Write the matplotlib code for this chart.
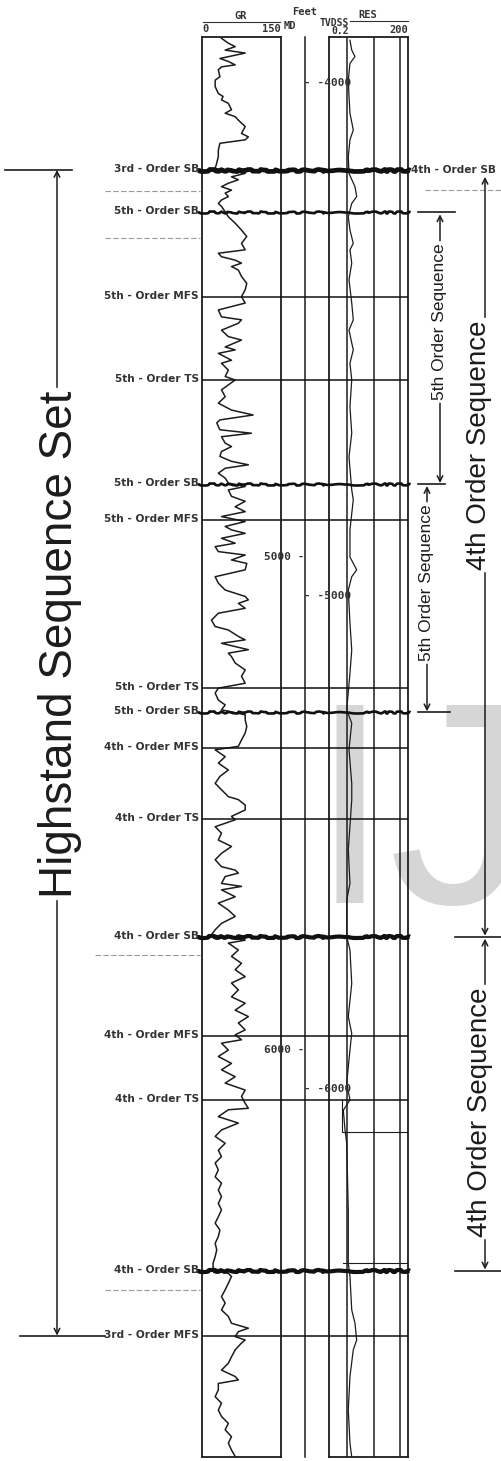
import matplotlib
matplotlib.use('Agg')
import matplotlib.pyplot as plt

# ---- data (depth = MD, feet) ----
GR_MD = [3948, 3958, 3965, 3972, 3978, 3989, 3995, 4002, 4006, 4012, 4026, 4033, 4046, 4060, 4066,
         4073, 4080, 4093, 4100, 4107, 4114, 4127, 4141, 4148, 4154, 4161, 4175, 4188, 4201, 4212,
         4222, 4229, 4235, 4242, 4249, 4256, 4262, 4269, 4276, 4283, 4289, 4300,
         4310, 4323, 4337, 4350, 4364, 4377, 4384, 4391, 4398, 4404, 4411, 4418, 4431, 4445, 4458, 4472,
         4485, 4499, 4513, 4519, 4526, 4540, 4553, 4560, 4574, 4580, 4587, 4601, 4607, 4621, 4634, 4641,
         4661, 4675, 4688, 4702, 4712, 4722, 4728, 4742, 4749, 4756, 4769, 4776, 4786, 4796, 4806,
         4813, 4820, 4830, 4840, 4850,
         4857, 4864, 4877, 4887, 4898, 4908, 4918,
         4928, 4938, 4945, 4952, 4962, 4972, 4979, 4989, 4996, 5006, 5013, 5026, 5040, 5053, 5067,
         5080, 5087, 5094, 5104, 5114, 5128, 5141, 5148, 5161, 5168, 5175, 5188, 5195, 5202, 5215,
         5229, 5242, 5256,
         5266, 5276, 5290, 5300, 5310,
         5320, 5330, 5344, 5357, 5371, 5384,
         5391, 5405, 5418, 5432, 5445, 5459, 5472, 5486, 5492, 5503, 5513, 5526,
         5533, 5547, 5560, 5574, 5587, 5601, 5614, 5628, 5635, 5641, 5648, 5662, 5668, 5675, 5689,
         5702, 5716, 5729, 5743, 5756, 5766,
         5777, 5783, 5797, 5810, 5824, 5837, 5851, 5864, 5878, 5892, 5905, 5919, 5932, 5945, 5959,
         5969, 5979, 5986, 6000, 6013, 6027, 6040, 6054, 6067, 6081, 6094, 6108, 6118,
         6121, 6135, 6148, 6162, 6175, 6189, 6203, 6216, 6229, 6243, 6257, 6270, 6284, 6297, 6311,
         6324, 6338, 6351, 6365, 6378, 6392, 6405, 6419, 6432, 6442,
         6453, 6459, 6473, 6486, 6500, 6513, 6527, 6540, 6554, 6564, 6571,
         6581, 6588, 6594, 6601, 6608, 6622, 6635, 6649, 6662, 6669, 6676, 6689, 6703, 6716, 6730,
         6743, 6757, 6770, 6784, 6797, 6811, 6824]
GR_API = [37, 50, 63, 44, 82, 34, 50, 63, 37, 31, 34, 25, 25, 31, 40,
          37, 50, 56, 44, 63, 69, 82, 75, 88, 82, 34, 31, 31, 28, 25,
          82, 56, 69, 50, 37, 56, 44, 50, 37, 31, 37, 44,
          50, 63, 75, 85, 75, 82, 31, 37, 63, 75, 56, 69, 75, 85, 82, 75,
          82, 31, 37, 75, 69, 37, 50, 75, 44, 63, 31, 56, 37, 50, 44, 63,
          37, 44, 31, 56, 97, 34, 28, 34, 94, 37, 44, 56, 37, 34, 56,
          88, 44, 31, 44, 50,
          82, 50, 56, 82, 63, 82, 37,
          82, 44, 56, 82, 37, 63, 25, 31, 82, 56, 85, 82, 25, 31, 44,
          82, 88, 69, 82, 31, 18, 25, 50, 69, 82, 37, 88, 50, 56, 63,
          82, 75, 82,
          31, 25, 31, 44, 37,
          82, 82, 85, 82, 75, 69,
          25, 44, 31, 50, 34, 25, 37, 50, 69, 82, 82, 56,
          63, 25, 37, 31, 56, 37, 25, 37, 63, 69, 44, 37, 75, 37, 63,
          31, 50, 63, 37, 25, 18,
          82, 50, 69, 56, 75, 63, 82, 56, 69, 56, 82, 63, 88, 69, 82,
          63, 75, 37, 50, 31, 56, 37, 63, 44, 82, 75, 82, 88,
          50, 31, 69, 37, 25, 44, 31, 37, 25, 31, 25, 37, 31, 37, 31,
          37, 31, 25, 34, 31, 25, 28, 25, 21, 21,
          50, 56, 50, 44, 37, 44, 37, 50, 56, 88, 69,
          63, 82, 75, 69, 63, 56, 50, 37, 63, 69, 31, 31, 25, 37, 31,
          37, 50, 44, 56, 50, 56, 63]

RES_MD = [3952, 3972, 3985, 3999, 4033, 4066, 4100, 4134, 4154, 4188, 4222, 4249, 4269, 4283,
          4310, 4337, 4364, 4377, 4404, 4438, 4485, 4519, 4540, 4580, 4607, 4641,
          4695, 4749, 4797, 4864, 4884, 4945, 5000, 5026, 5040, 5067, 5134, 5189, 5236, 5310,
          5337, 5371, 5391, 5459, 5493, 5594, 5662, 5696, 5770, 5797, 5865, 5932, 5966, 6000,
          6067, 6101, 6122, 6162, 6189, 6324, 6432, 6459, 6527, 6554, 6588, 6608, 6662, 6730,
          6797, 6825]
RES_OHMM = [1.25, 1.46, 1.94, 1.25, 1.08, 1.15, 1.25, 1.67, 1.25, 1.08, 1.15, 1.94, 2.25, 1.46,
            1.08, 1.25, 1.67, 1.25, 1.46, 1.15, 1.46, 1.67, 1.15, 1.67, 1.25, 1.46,
            1.25, 1.46, 1.15, 1.46, 1.67, 1.25, 1.25, 2.25, 1.46, 1.08, 1.25, 1.46, 1.25, 0.94,
            1.46, 1.25, 1.15, 1.46, 1.46, 1.08, 1.25, 0.94, 0.94, 1.25, 1.46, 1.08, 1.46, 1.25,
            0.94, 1.25, 0.70, 0.81, 0.94, 1.08, 1.08, 1.25, 1.46, 1.94, 2.25, 1.67, 1.25, 1.08,
            1.25, 1.46]
RES_GRID = [1, 10, 100]
# scale-shift / backup trace segments in the RES track
RES_STEP_MD = [6101, 6166, 6166]
RES_STEP_OHMM = [0.62, 0.62, 200]
RES_STEP2_MD = [6432, 6432]
RES_STEP2_OHMM = [0.70, 200]

SURF_MD = [4215, 4301, 4472, 4641, 4852, 4925, 5265, 5315, 5387, 5531, 5770, 5971, 6101, 6447, 6579]
SURF_LABEL = ['3rd - Order SB', '5th - Order SB', '5th - Order MFS', '5th - Order TS',
              '5th - Order SB', '5th - Order MFS', '5th - Order TS', '5th - Order SB',
              '4th - Order MFS', '4th - Order TS', '4th - Order SB', '4th - Order MFS',
              '4th - Order TS', '4th - Order SB', '3rd - Order MFS']
SURF_KIND = ['SB3', 'SB5', 'MFS', 'TS', 'SB5', 'MFS', 'TS', 'SB5',
             'MFS', 'TS', 'SB4', 'MFS', 'TS', 'SB4', 'MFS']

MD_TICKS = [5000, 6000]
TVDSS_TICK_MD = [4039, 5079, 6079]
TVDSS_LABELS = ['-4000', '-5000', '-6000']

# ---- layout (scan is 501 x 1461 px; 5000 ft at row 557, 6000 ft at row 1050) ----
W, H = 501, 1461


def md(row):
    return 3870.4 + 2.028 * row


TOP, BOT = md(37), md(1457)
INK = '#1c1c1c'
MONO = dict(family='DejaVu Sans Mono', fontweight='bold', color='#333333')
LABEL = dict(fontsize=7.6, fontweight='bold', color='#333333')

fig = plt.figure(figsize=(W / 100, H / 100), dpi=100)
fig.patch.set_facecolor('white')

# watermark behind everything
fig.text(309 / W, 1 - 903 / H, 'IJ', fontsize=207, color='#d6d6d6',
         family=['Liberation Sans', 'DejaVu Sans'], ha='left', va='baseline', zorder=-1)


def track(x0, x1):
    ax = fig.add_axes([x0 / W, 1 - 1457 / H, (x1 - x0) / W, 1420 / H])
    ax.set_ylim(BOT, TOP)
    ax.set_facecolor('none')
    ax.tick_params(which='both', bottom=False, left=False, labelbottom=False, labelleft=False)
    for s in ax.spines.values():
        s.set_linewidth(1.3)
        s.set_color(INK)
    return ax


gr = track(202, 281)
gr.set_xlim(0, 150)
gr.plot(GR_API, GR_MD, color=INK, lw=1.1)

res = track(329, 408)
res.set_xscale('log')
res.set_xlim(0.2, 200)
res.tick_params(which='both', bottom=False, left=False, labelbottom=False, labelleft=False)
for v in RES_GRID:
    res.axvline(v, color=INK, lw=1.1)
res.plot(RES_OHMM, RES_MD, color=INK, lw=0.9)
res.plot(RES_STEP_OHMM, RES_STEP_MD, color=INK, lw=0.8)
res.plot(RES_STEP2_OHMM, RES_STEP2_MD, color=INK, lw=0.8)

# overlay for surfaces & annotations, x in scan pixels, y in MD
ov = fig.add_axes([0, 0, 1, 1], zorder=5)
ov.set_xlim(0, W)
ov.set_ylim(md(H), md(0))
ov.axis('off')
ov.patch.set_alpha(0)

ov.plot([305, 305], [TOP, BOT], color=INK, lw=1.1)

style = {'SB3': (3.4, 197, 410, True), 'SB4': (3.0, 197, 410, True), 'SB5': (1.9, 197, 410, True),
         'MFS': (1.1, 202, 408, False), 'TS': (1.1, 202, 408, False)}
for d, lab, kind in zip(SURF_MD, SURF_LABEL, SURF_KIND):
    lw, x0, x1, wavy = style[kind]
    ln, = ov.plot([x0, x1], [d, d], color='#111111', lw=lw, solid_capstyle='butt')
    if wavy:
        ln.set_sketch_params(scale=1.0, length=40, randomness=20)
    ov.text(199, d - 2, lab, ha='right', va='center', **LABEL)

ov.text(411, SURF_MD[0], '4th - Order SB', ha='left', va='center', **LABEL)

# faint scan dashes under some labels
for x0, x1, r in [(105, 200, 191), (105, 200, 238), (95, 200, 955), (105, 200, 1290), (425, 501, 190)]:
    ov.plot([x0, x1], [md(r), md(r)], color='#9a9a9a', lw=0.8, ls=(0, (5, 2)))

# header
ov.text(305, md(12), 'Feet', ha='center', va='center', fontsize=7.5, **MONO)
ov.text(241, md(16), 'GR', ha='center', va='center', fontsize=7.5, **MONO)
ov.plot([203, 280], [md(22), md(22)], color='#333333', lw=0.8)
ov.text(202, md(29), '0', ha='left', va='center', fontsize=7.5, **MONO)
ov.text(281, md(29), '150', ha='right', va='center', fontsize=7.5, **MONO)
ov.text(290, md(26), 'MD', ha='center', va='center', fontsize=7.5, **MONO)
ov.text(334, md(23), 'TVDSS', ha='center', va='center', fontsize=7, **MONO)
ov.text(368, md(15), 'RES', ha='center', va='center', fontsize=7.5, **MONO)
ov.plot([350, 408], [md(21), md(21)], color='#333333', lw=0.8)
ov.text(331, md(31), '0.2', ha='left', va='center', fontsize=7, **MONO)
ov.text(408, md(30), '200', ha='right', va='center', fontsize=7.5, **MONO)

# depth ticks
for v in MD_TICKS:
    ov.text(305, v, '%d -' % v, ha='right', va='center', fontsize=8, **MONO)
for d, lab in zip(TVDSS_TICK_MD, TVDSS_LABELS):
    ov.text(304, d, '- ' + lab, ha='left', va='center', fontsize=8, **MONO)

# sequence brackets
fig.canvas.draw()
rend = fig.canvas.get_renderer()
inv = ov.transData.inverted()


def seq(x, d0, d1, text, tx, tmid, size):
    t = ov.text(tx, tmid, text, rotation=90, ha='center', va='center', fontsize=size,
                family=['Liberation Sans', 'DejaVu Sans'], color=INK)
    bb = t.get_window_extent(rend).transformed(inv)
    g0, g1 = min(bb.y0, bb.y1) - 6, max(bb.y0, bb.y1) + 6
    ap = dict(arrowstyle='->', lw=1.1, color=INK, shrinkA=0, shrinkB=0)
    ov.annotate('', xy=(x, d0), xytext=(x, g0), arrowprops=ap)
    ov.annotate('', xy=(x, d1), xytext=(x, g1), arrowprops=ap)


seq(57, SURF_MD[0], SURF_MD[14], 'Highstand Sequence Set', 60, md(644), 33)
seq(440, SURF_MD[1] + 4, SURF_MD[4] - 2, '5th Order Sequence', 440, md(322), 12.5)
seq(427, SURF_MD[4] + 4, SURF_MD[7] - 2, '5th Order Sequence', 427, md(583), 12.5)
seq(485, SURF_MD[0] + 14, SURF_MD[10] - 2, '4th Order Sequence', 479, md(445), 20)
seq(485, SURF_MD[10] + 4, SURF_MD[13] - 2, '4th Order Sequence', 480, md(1112), 20)

bars = [(5, 72, SURF_MD[0]), (20, 105, SURF_MD[14]), (418, 455, SURF_MD[1]),
        (418, 445, SURF_MD[4]), (418, 450, SURF_MD[7]), (455, 501, SURF_MD[10]),
        (455, 501, SURF_MD[13])]
for x0, x1, d in bars:
    ov.plot([x0, x1], [d, d], color=INK, lw=1.2)

fig.savefig('out.png', dpi=100, facecolor='white')
